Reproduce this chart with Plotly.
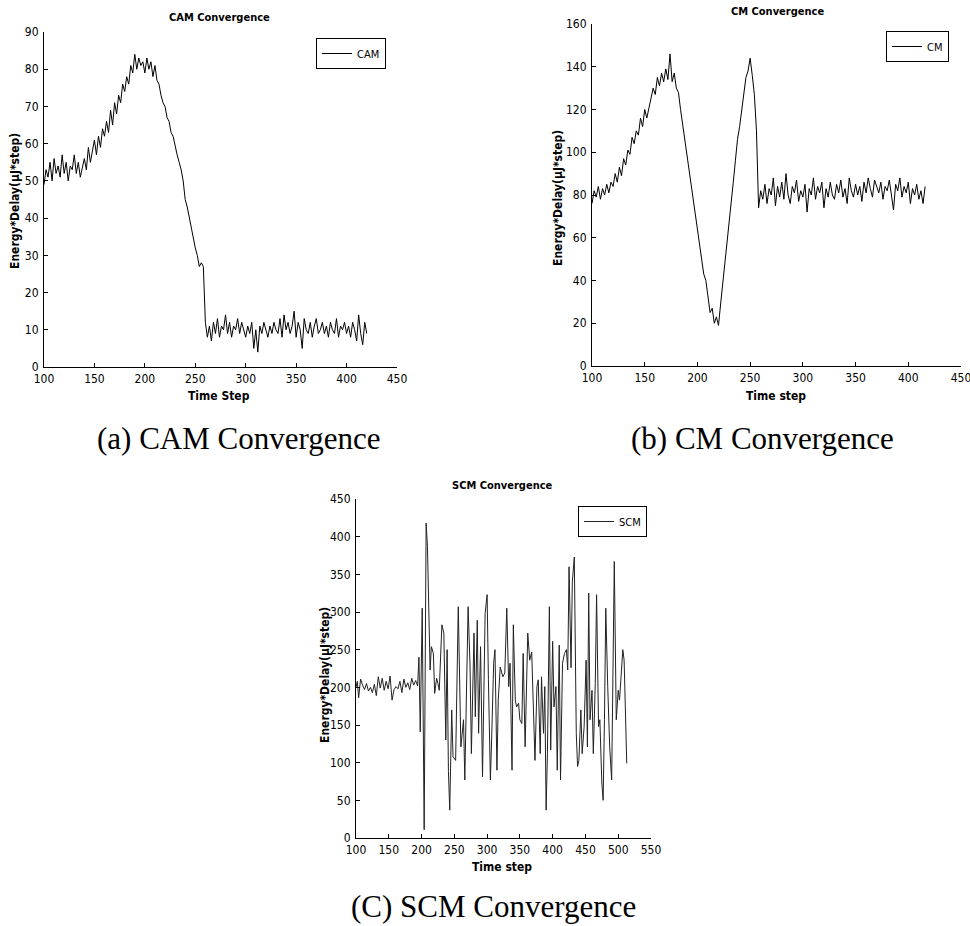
import plotly.graph_objects as go

# Page body margin is removed (post_script) so the figure fills the window exactly.
W, H = 970, 926

# ---------------- data ----------------
cam_steps = list(range(100, 421, 2))
cam_values = [
    49, 53, 51, 55, 50, 56, 52, 54, 51, 57,
    52, 55, 50, 54, 53, 57, 52, 55, 51, 54,
    56, 53, 59, 55, 58, 61, 57, 62, 59, 64,
    62, 66, 63, 69, 65, 71, 68, 73, 71, 76,
    74, 78, 76, 81, 79, 84, 80, 83, 81, 82,
    79, 83, 80, 82, 78, 81, 77, 76, 73, 71,
    70, 67, 66, 63, 62, 59, 57, 55, 53, 50,
    45, 43, 40, 38, 35, 32, 30, 27, 28, 27,
    12, 8, 11, 7, 12, 9, 13, 8, 11, 10,
    14, 9, 12, 8, 11, 10, 13, 9, 12, 10,
    8, 11, 9, 12, 5, 10, 4, 11, 9, 12,
    10, 8, 11, 9, 12, 10, 9, 13, 8, 14,
    10, 12, 9, 11, 15, 8, 12, 10, 5, 13,
    10, 9, 12, 8, 11, 13, 9, 10, 12, 9,
    11, 8, 12, 10, 9, 13, 8, 11, 10, 12,
    9, 11, 8, 12, 10, 7, 14, 9, 6, 12,
    9,
]

cm_steps = list(range(100, 417, 2))
cm_values = [
    76, 82, 79, 84, 78, 83, 80, 85, 81, 86,
    84, 90, 86, 93, 89, 97, 94, 101, 99, 107,
    104, 110, 108, 116, 112, 120, 116, 121, 125, 130,
    127, 135, 131, 137, 133, 139, 134, 146, 133, 137,
    130, 128, 120, 113, 105, 99, 92, 85, 78, 71,
    64, 58, 50, 43, 40, 32, 25, 27, 20, 23,
    19, 29, 38, 47, 56, 66, 76, 86, 96, 106,
    112, 120, 128, 135, 138, 144, 136, 127, 110, 74,
    82, 78, 85, 76, 83, 80, 88, 75, 84, 79,
    86, 78, 90, 80, 76, 84, 81, 87, 77, 82,
    79, 85, 72, 83, 80, 88, 78, 84, 81, 86,
    74, 83, 79, 86, 80, 78, 85, 81, 87, 79,
    83, 76, 88, 82, 79, 85, 80, 84, 77, 86,
    81, 88, 83, 79, 87, 84, 81, 86, 78, 84,
    82, 87, 80, 73, 85, 82, 88, 79, 84, 81,
    86, 76, 83, 80, 85, 78, 82, 76, 84,
]

scm_steps = [
    100, 102, 104, 107, 110, 113, 116, 119, 122, 125, 128, 131, 134, 137, 140, 143, 146,
    149, 152, 155, 158, 161, 164, 167, 170, 173, 176, 179, 182, 185, 188, 191, 194,
    196, 198, 201, 204, 207, 209, 211, 213, 215, 218, 220, 223, 225, 227, 231, 234,
    237, 239, 241, 243, 246, 248, 252, 256, 260, 264, 266, 271, 274, 276, 280, 282,
    285, 287, 290, 293, 297, 300, 302, 305,
    307, 310, 312, 315, 317, 320, 324, 327, 330, 333, 335, 338, 340, 343, 345, 348,
    350, 353, 355, 358, 362, 365, 368, 371, 373, 376, 378, 381, 383, 386, 388, 390,
    392, 395, 397, 400, 402, 405, 407, 410, 412, 415, 418, 421, 423, 425, 428, 430,
    433, 436, 438, 440, 443, 445, 448, 451, 453, 455, 457, 460, 462, 465, 467, 470,
    472, 475, 477, 479, 481, 484, 487, 490, 494, 497, 500, 502, 505, 507, 509, 511, 513,
]
scm_values = [
    200, 208, 186, 211, 203, 197, 205, 195, 200, 193, 204, 189, 214, 199, 212, 196, 208,
    198, 215, 183, 197, 201, 198, 208, 193, 211, 200, 206, 197, 212, 203, 209, 202,
    240, 141, 305, 11, 418, 387, 276, 223, 254, 245, 192, 212, 205, 196, 283, 272,
    130, 250, 88, 37, 170, 108, 103, 307, 121, 157, 77, 307, 227, 112, 272, 161,
    289, 139, 254, 81, 298, 323, 210, 77,
    134, 232, 250, 90, 183, 227, 214, 219, 305, 201, 232, 90, 283, 183, 174, 179,
    157, 152, 245, 121, 272, 236, 247, 143, 103, 201, 210, 112, 214, 139, 201, 37,
    112, 307, 117, 261, 174, 201, 90, 256, 77, 232, 245, 250, 223, 360, 226, 340,
    373, 139, 95, 103, 170, 112, 148, 236, 121, 325, 157, 196, 112, 205, 323, 148,
    157, 73, 50, 157, 305, 201, 121, 77, 367, 157, 196, 183, 232, 250, 236, 170, 99,
]

assert len(cam_steps) == len(cam_values)
assert len(cm_steps) == len(cm_values)
assert len(scm_steps) == len(scm_values)

# ---------------- layout helpers ----------------
NARROW = "Liberation Sans Narrow, Arial Narrow, DejaVu Sans Condensed, sans-serif"
SERIF = "Liberation Serif, Times New Roman, serif"


def px_x(p):
    return p / W


def px_y(p):
    return 1 - p / H


def axis(domain, rng, dtick, anchor, is_x):
    return dict(
        domain=domain, range=rng, dtick=dtick, tick0=0, anchor=anchor,
        showline=True, linecolor="black", linewidth=1, mirror=False,
        ticks="inside", ticklen=4, tickcolor="black", tickwidth=1,
        showgrid=False, zeroline=False, automargin=False,
        ticklabelstandoff=1 if is_x else 2,
        ticklabeloverflow="allow",
        tickfont=dict(family=NARROW, size=12, color="black"),
    )


fig = go.Figure()
line_style = dict(color="black", width=1)
fig.add_trace(go.Scatter(x=cam_steps, y=cam_values, mode="lines", name="CAM",
                         line=line_style, xaxis="x", yaxis="y", legend="legend"))
fig.add_trace(go.Scatter(x=cm_steps, y=cm_values, mode="lines", name="CM",
                         line=line_style, xaxis="x2", yaxis="y2", legend="legend2"))
fig.add_trace(go.Scatter(x=scm_steps, y=scm_values, mode="lines", name="SCM",
                         line=dict(color="#222222", width=1), xaxis="x3", yaxis="y3",
                         legend="legend3"))

legend_common = dict(
    bgcolor="white", bordercolor="black", borderwidth=1,
    font=dict(family=NARROW, size=11, color="black"),
    xanchor="left", yanchor="top", itemwidth=30,
    tracegroupgap=0,
)

annotations = []


def text(x, y, s, size, family, bold=False, angle=0):
    annotations.append(dict(
        x=px_x(x), y=px_y(y), xref="paper", yref="paper",
        text=("<b>%s</b>" % s) if bold else s, showarrow=False,
        font=dict(family=family, size=size, color="black"),
        xanchor="center", yanchor="middle", textangle=angle,
    ))


# panel titles
text(219, 17, "CAM Convergence", 11, NARROW, bold=True)
text(777, 11, "CM Convergence", 11, NARROW, bold=True)
text(502, 485, "SCM Convergence", 11, NARROW, bold=True)
# x-axis titles
text(219, 396, "Time Step", 12, NARROW, bold=True)
text(776, 396, "Time step", 12, NARROW, bold=True)
text(502, 867, "Time step", 12, NARROW, bold=True)
# y-axis titles
text(15, 201, "Energy*Delay(μJ*step)", 12, NARROW, bold=True, angle=-90)
text(558, 198, "Energy*Delay(μJ*step)", 12, NARROW, bold=True, angle=-90)
text(325, 675, "Energy*Delay(μJ*step)", 12, NARROW, bold=True, angle=-90)
# captions
text(239, 438, "(a) CAM Convergence", 31, SERIF)
text(762, 438, "(b) CM Convergence", 31, SERIF)
text(494, 906, "(C) SCM Convergence", 31, SERIF)

fig.update_layout(
    width=W, height=H,
    margin=dict(l=0, r=0, t=0, b=0, autoexpand=False),
    paper_bgcolor="white", plot_bgcolor="white",
    showlegend=True,
    hovermode=False,
    xaxis=axis([px_x(44), px_x(397)], [100, 450], 50, "y", True),
    yaxis=axis([px_y(367), px_y(32)], [0, 90], 10, "x", False),
    xaxis2=axis([px_x(592), px_x(961)], [100, 450], 50, "y2", True),
    yaxis2=axis([px_y(366), px_y(24)], [0, 160], 20, "x2", False),
    xaxis3=axis([px_x(356), px_x(651)], [100, 550], 50, "y3", True),
    yaxis3=axis([px_y(838), px_y(499)], [0, 450], 50, "x3", False),
    legend=dict(x=px_x(316), y=px_y(38), **legend_common),
    legend2=dict(x=px_x(886), y=px_y(31), **legend_common),
    legend3=dict(x=px_x(578), y=px_y(506), **legend_common),
    annotations=annotations,
)

fig.write_html(
    "out.html",
    config={"displayModeBar": False},
    post_script="document.body.style.margin='0';document.body.style.overflow='hidden';",
)
